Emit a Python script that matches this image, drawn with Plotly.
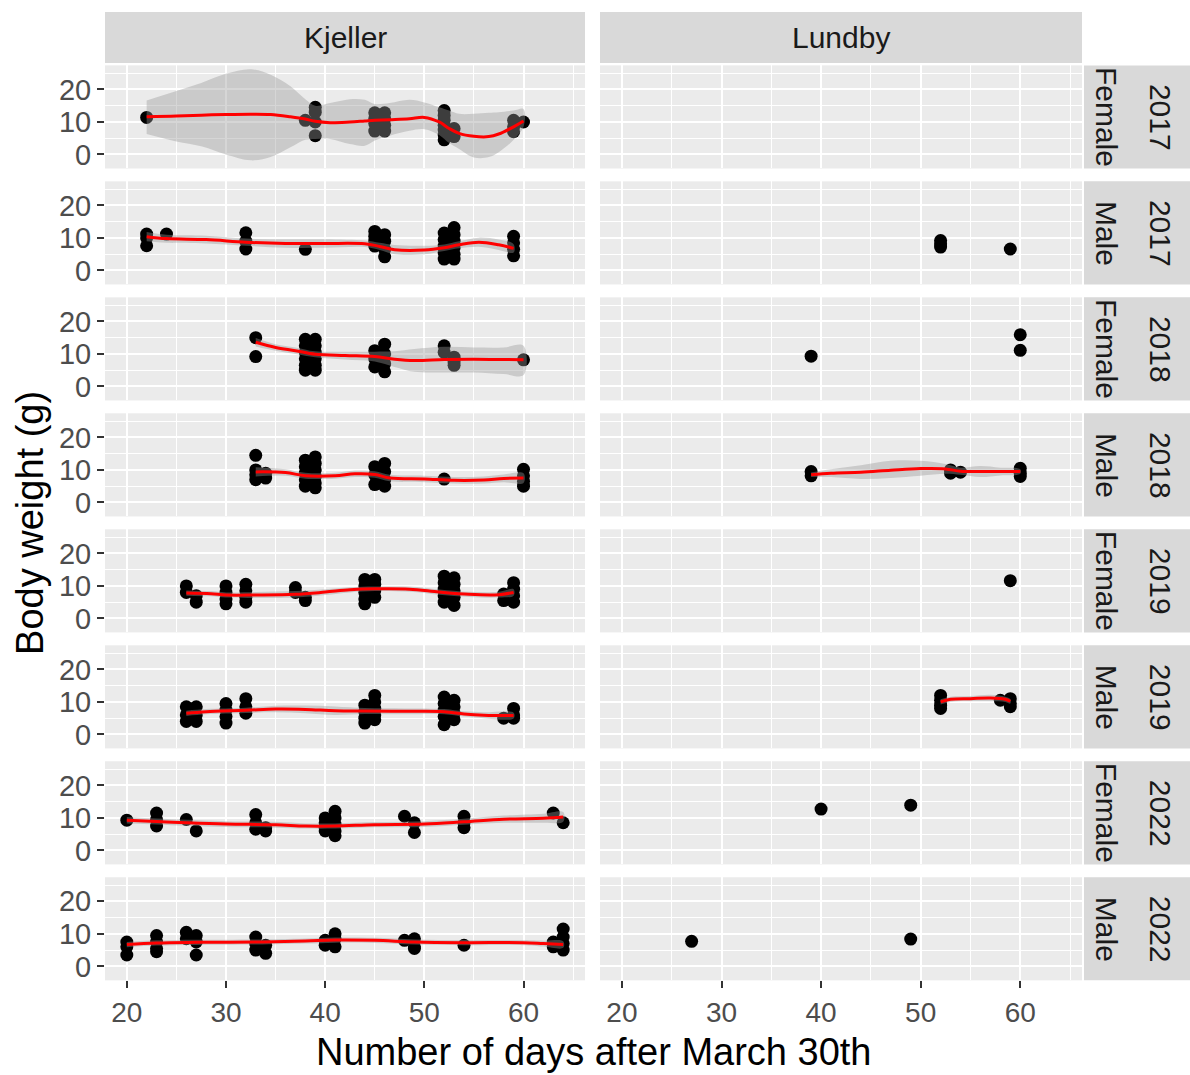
import plotly.graph_objects as go

# ---------------- data ----------------
sites = ["Kjeller", "Lundby"]
row_sex = ["Female", "Male", "Female", "Male", "Female", "Male", "Female", "Male"]
row_year = ["2017", "2017", "2018", "2018", "2019", "2019", "2022", "2022"]
x_ticks = [20, 30, 40, 50, 60]
y_ticks = [0, 10, 20]

# points (day, weight)
K_F2017 = [(22, 11.4), (38, 10.5), (39, 14.5), (39, 13.0), (39, 10.0), (39, 5.8),
           (45, 12.8), (45, 11.0), (45, 9.5), (45, 7.2), (46, 12.8), (46, 11.0), (46, 9.0), (46, 7.2),
           (52, 13.5), (52, 12.0), (52, 10.5), (52, 9.0), (52, 7.5), (52, 6.0), (52, 4.5), (53, 5.5), (53, 8.0),
           (59, 10.5), (59, 8.5), (59, 7.0), (60, 10.0)]
K_M2017 = [(22, 11.2), (22, 10.0), (22, 7.6), (24, 11.2),
           (32, 11.6), (32, 9.0), (32, 6.6), (38, 6.5),
           (45, 12.0), (45, 10.5), (45, 9.0), (45, 7.5), (46, 11.0), (46, 9.0), (46, 6.5), (46, 4.2),
           (52, 11.5), (52, 9.5), (52, 7.5), (52, 5.5), (52, 3.5), (53, 13.2), (53, 11.0), (53, 9.0),
           (53, 7.0), (53, 5.0), (53, 3.5),
           (59, 10.5), (59, 8.5), (59, 6.5), (59, 4.5)]
K_F2018 = [(33, 15.0), (33, 9.2),
           (38, 14.5), (38, 12.5), (38, 10.5), (38, 8.5), (38, 6.5), (38, 5.0),
           (39, 14.5), (39, 12.5), (39, 10.5), (39, 8.5), (39, 6.5), (39, 5.0),
           (45, 11.0), (45, 8.5), (45, 6.0), (46, 13.0), (46, 10.0), (46, 7.0), (46, 4.5),
           (52, 12.5), (52, 10.5), (53, 9.0), (53, 7.5), (53, 6.5),
           (60, 8.2)]
K_M2018 = [(33, 14.5), (33, 10.0), (33, 8.5), (33, 7.0), (34, 9.0), (34, 7.5),
           (38, 13.0), (38, 11.0), (38, 9.0), (38, 7.0), (38, 5.0),
           (39, 14.0), (39, 12.0), (39, 10.0), (39, 8.0), (39, 6.0), (39, 4.5),
           (45, 11.0), (45, 8.5), (45, 5.5), (46, 12.0), (46, 9.5), (46, 7.0), (46, 5.0),
           (52, 7.2),
           (60, 10.2), (60, 8.2), (60, 6.5), (60, 5.0)]
K_F2019 = [(26, 10.0), (26, 8.0), (27, 7.0), (27, 5.0),
           (30, 10.0), (30, 8.0), (30, 6.0), (30, 4.5),
           (32, 10.5), (32, 8.5), (32, 6.5), (32, 5.0),
           (37, 9.5), (37, 8.0), (38, 6.5), (38, 5.5),
           (44, 12.0), (44, 10.0), (44, 8.0), (44, 6.0), (44, 4.5), (45, 12.0), (45, 10.5), (45, 8.5), (45, 6.5),
           (52, 13.0), (52, 11.0), (52, 9.0), (52, 7.0), (52, 5.0),
           (53, 12.5), (53, 10.5), (53, 8.5), (53, 6.5), (53, 4.0),
           (58, 7.5), (58, 5.5), (59, 11.0), (59, 9.0), (59, 7.0), (59, 5.0)]
K_M2019 = [(26, 8.5), (26, 6.0), (26, 4.0), (27, 8.5), (27, 6.0), (27, 4.0),
           (30, 9.5), (30, 7.5), (30, 5.5), (30, 3.5),
           (32, 11.0), (32, 8.5), (32, 6.5),
           (44, 9.0), (44, 7.0), (44, 5.0), (44, 3.5), (45, 12.0), (45, 10.0), (45, 8.0), (45, 6.0), (45, 4.5),
           (52, 11.5), (52, 9.5), (52, 7.5), (52, 5.5), (52, 3.0), (53, 10.5), (53, 8.5), (53, 6.5), (53, 4.5),
           (58, 5.0), (59, 8.0), (59, 6.0), (59, 5.0)]
K_F2022 = [(20, 9.3), (23, 11.5), (23, 9.5), (23, 7.5), (26, 9.5), (27, 6.0),
           (33, 11.0), (33, 8.5), (33, 6.5), (34, 7.0), (34, 6.0),
           (40, 10.0), (40, 8.5), (40, 7.0), (40, 6.0), (41, 12.0), (41, 10.0), (41, 8.0), (41, 6.0), (41, 4.5),
           (48, 10.5), (49, 8.5), (49, 5.5),
           (54, 10.5), (54, 8.5), (54, 7.0),
           (63, 11.5), (64, 8.5)]
K_M2022 = [(20, 7.5), (20, 6.0), (20, 3.5), (23, 9.5), (23, 7.5), (23, 5.5), (23, 4.5),
           (26, 10.5), (26, 8.5), (27, 9.5), (27, 7.5), (27, 3.5),
           (33, 9.0), (33, 7.0), (33, 5.0), (34, 6.5), (34, 4.0),
           (40, 8.0), (40, 6.5), (41, 10.0), (41, 8.5), (41, 6.0),
           (48, 8.0), (49, 8.5), (49, 6.0), (49, 5.5),
           (54, 6.5),
           (63, 7.5), (63, 6.0), (64, 11.5), (64, 9.0), (64, 7.0), (64, 5.0)]
L_F2017 = []
L_M2017 = [(52, 9.2), (52, 8.2), (52, 7.2), (59, 6.6)]
L_F2018 = [(39, 9.3), (60, 15.9), (60, 11.1)]
L_M2018 = [(39, 9.5), (39, 8.2), (53, 10.0), (53, 9.0), (54, 9.3), (60, 10.5), (60, 9.0), (60, 8.0)]
L_F2019 = [(59, 11.6)]
L_M2019 = [(52, 12.0), (52, 10.5), (52, 9.0), (52, 8.0), (58, 10.5), (59, 11.0), (59, 9.5), (59, 8.5)]
L_F2022 = [(40, 12.7), (49, 13.9)]
L_M2022 = [(27, 7.7), (49, 8.4)]

# loess smooth: (day, fit, lower, upper)
S_K_F2017 = [(22, 11.6, 6.3, 16.6), (25, 11.8, 4.0, 19.5), (27.5, 12.1, 2.5, 22.0), (30, 12.3, 0.0, 24.8),
             (32.5, 12.4, -1.8, 26.2), (34.5, 12.3, -0.8, 24.5), (36.5, 11.6, 2.2, 21.0), (38, 10.9, 4.5, 17.0),
             (39, 10.2, 4.8, 15.0), (40.5, 9.8, 4.8, 15.8), (42.5, 10.0, 3.2, 17.0), (44, 10.3, 2.7, 16.8),
             (45, 10.5, 4.3, 15.5), (46.5, 10.7, 5.8, 15.8), (48.5, 11.0, 7.3, 16.8), (50, 11.4, 7.8, 16.0),
             (51.5, 10.0, 6.0, 14.5), (52.5, 8.0, 3.5, 13.5), (53.5, 6.5, 1.7, 12.5), (55, 5.6, -0.9, 12.5),
             (56.5, 5.5, -0.8, 12.8), (57.5, 6.3, 0.7, 13.0), (59, 8.5, 4.5, 13.5), (60, 10.3, 8.5, 14.0)]
S_K_M2017 = [(22, 10.4, 9.0, 11.8), (24, 9.8, 8.5, 11.0), (28, 9.5, 8.3, 10.7), (32, 8.7, 7.6, 9.8),
             (36, 8.3, 7.0, 9.6), (40, 8.3, 7.0, 9.6), (44, 8.2, 7.2, 9.2), (45.5, 7.4, 6.3, 8.5),
             (47, 6.4, 5.0, 7.8), (50, 6.3, 5.0, 7.6), (52, 7.0, 6.0, 8.0), (53.5, 7.9, 6.8, 9.0),
             (55.5, 8.7, 7.3, 10.1), (57.5, 7.9, 6.3, 9.5), (59, 6.8, 5.5, 8.1)]
S_K_F2018 = [(33, 13.6, 12.3, 14.9), (35, 12.0, 11.0, 13.0), (37, 11.0, 10.0, 12.0), (39, 9.9, 9.0, 10.8),
             (42, 9.5, 8.3, 10.7), (45, 9.2, 7.7, 10.7), (47, 8.4, 6.0, 10.8), (49, 8.0, 4.5, 11.5),
             (52, 8.3, 4.3, 12.2), (55, 8.4, 4.3, 12.0), (58, 8.3, 3.8, 12.0), (60, 8.2, 3.5, 12.5)]
S_K_M2018 = [(33, 9.4, 8.0, 10.8), (36, 9.2, 8.2, 10.2), (38, 8.2, 7.3, 9.1), (41, 8.2, 7.3, 9.1),
             (43, 8.8, 7.8, 9.8), (45, 8.6, 7.6, 9.6), (46.5, 7.5, 6.5, 8.5), (50, 7.2, 6.2, 8.2),
             (53, 6.8, 5.8, 7.8), (56, 6.9, 5.8, 8.0), (58, 7.4, 6.2, 8.6), (60, 7.5, 6.0, 9.0)]
S_K_F2019 = [(26, 7.8, 7.0, 8.6), (28.5, 7.6, 6.8, 8.4), (30, 7.2, 6.4, 8.0), (33, 7.2, 6.3, 8.1),
             (37, 7.4, 6.4, 8.4), (40, 8.1, 7.2, 9.0), (42.5, 8.8, 8.0, 9.6), (45, 9.1, 8.4, 9.8),
             (48.5, 9.0, 8.2, 9.8), (51.5, 8.1, 7.3, 8.9), (54.5, 7.4, 6.6, 8.2), (57.5, 7.3, 6.4, 8.2),
             (59, 8.0, 7.0, 9.0)]
S_K_M2019 = [(26, 6.5, 5.7, 7.3), (28, 7.0, 6.2, 7.8), (32, 7.4, 6.6, 8.2), (35, 7.8, 6.8, 8.8),
             (38, 7.7, 6.5, 8.9), (41, 7.3, 6.0, 8.6), (44, 7.2, 6.3, 8.1), (48, 7.1, 6.2, 8.0),
             (52, 7.0, 6.2, 7.8), (54, 6.3, 5.5, 7.1), (56, 5.9, 5.0, 6.8), (59, 5.8, 4.9, 6.7)]
S_K_F2022 = [(20, 9.3, 8.3, 10.3), (23, 8.9, 8.0, 9.8), (26, 8.5, 7.6, 9.4), (30, 8.1, 7.2, 9.0),
             (35, 7.9, 7.0, 8.8), (38, 7.5, 6.7, 8.3), (41, 7.5, 6.7, 8.3), (45, 7.9, 7.1, 8.7),
             (50, 8.1, 7.2, 9.0), (54, 8.8, 7.9, 9.7), (58, 9.6, 8.5, 10.7), (62, 9.9, 8.5, 11.3),
             (64, 10.3, 8.8, 11.8)]
S_K_M2022 = [(20, 6.7, 5.9, 7.5), (23, 7.2, 6.4, 8.0), (27, 7.4, 6.6, 8.2), (33, 7.5, 6.7, 8.3),
             (38, 7.8, 7.0, 8.6), (41, 8.1, 7.3, 8.9), (45, 8.0, 7.2, 8.8), (49, 7.5, 6.7, 8.3),
             (54, 7.3, 6.5, 8.1), (60, 7.3, 6.5, 8.1), (62, 7.0, 6.1, 7.9), (64, 6.7, 5.7, 7.7)]
S_L_M2018 = [(39, 8.5, 7.8, 9.2), (41, 9.0, 7.8, 10.2), (44, 9.3, 7.2, 11.4), (47, 9.9, 7.5, 12.8),
             (50, 10.4, 8.2, 12.8), (52.5, 10.3, 8.8, 11.8), (54, 9.6, 8.5, 10.7), (56, 9.5, 7.8, 11.2),
             (58, 9.5, 8.3, 10.7), (60, 9.5, 8.8, 10.2)]
S_L_M2019 = [(52, 10.0, 9.2, 10.8), (53, 10.8, 10.0, 11.6), (55, 11.0, 10.2, 11.8), (57, 11.2, 10.2, 12.2),
             (58.5, 10.8, 10.0, 11.6), (59, 10.2, 9.5, 10.9)]

points = [[K_F2017, L_F2017], [K_M2017, L_M2017], [K_F2018, L_F2018], [K_M2018, L_M2018],
          [K_F2019, L_F2019], [K_M2019, L_M2019], [K_F2022, L_F2022], [K_M2022, L_M2022]]
smooths = [[S_K_F2017, None], [S_K_M2017, None], [S_K_F2018, None], [S_K_M2018, S_L_M2018],
           [S_K_F2019, None], [S_K_M2019, S_L_M2019], [S_K_F2022, None], [S_K_M2022, None]]

# ---------------- layout geometry (pixels) ----------------
W, H = 1190, 1075
FONT = "Liberation Sans, Arial, sans-serif"
col_px = [(105, 585), (600, 1082)]
row_top0, row_step, row_h = 65.5, 116.2, 103.3
strip_top = (12, 63)
rstrip = (1084, 1190)
XR = [17.8, 66.2]
YR = [-4.3, 27.4]


def px(x):
    return x / W


def py(y):
    return 1 - y / H


fig = go.Figure()
layout = {}
shapes = []
annotations = []

for r in range(8):
    top = row_top0 + row_step * r
    bot = top + row_h
    for c in range(2):
        idx = r * 2 + c + 1
        xa = "x" if idx == 1 else f"x{idx}"
        ya = "y" if idx == 1 else f"y{idx}"
        xkey = "xaxis" if idx == 1 else f"xaxis{idx}"
        ykey = "yaxis" if idx == 1 else f"yaxis{idx}"
        bottom_row = r == 7
        left_col = c == 0
        layout[xkey] = dict(
            domain=[px(col_px[c][0]), px(col_px[c][1])], anchor=ya, range=XR,
            tickmode="array", tickvals=x_ticks, ticktext=[str(v) for v in x_ticks],
            showticklabels=bottom_row, ticks="outside" if bottom_row else "",
            ticklen=7, tickwidth=1.5, tickcolor="#333333",
            tickfont=dict(family=FONT, size=28, color="#4D4D4D"),
            showgrid=True, gridcolor="white", gridwidth=2, zeroline=False, showline=False,
            minor=dict(tickmode="array", tickvals=[25, 35, 45, 55, 65], showgrid=True,
                       gridcolor="white", gridwidth=1, ticks=""),
            fixedrange=True,
        )
        layout[ykey] = dict(
            domain=[py(bot), py(top)], anchor=xa, range=YR,
            tickmode="array", tickvals=y_ticks, ticktext=[str(v) for v in y_ticks],
            showticklabels=left_col, ticks="outside" if left_col else "",
            ticklen=7, tickwidth=1.5, tickcolor="#333333",
            tickfont=dict(family=FONT, size=29, color="#4D4D4D"),
            showgrid=True, gridcolor="white", gridwidth=2, zeroline=False, showline=False,
            minor=dict(tickmode="array", tickvals=[5, 15, 25], showgrid=True,
                       gridcolor="white", gridwidth=1, ticks=""),
            fixedrange=True,
        )
        pts = points[r][c]
        sm = smooths[r][c]
        # always one marker trace so every panel's axes get drawn
        fig.add_trace(go.Scatter(x=[p[0] for p in pts], y=[p[1] for p in pts], mode="markers",
                                 marker=dict(color="black", size=13, line=dict(width=0)),
                                 xaxis=xa, yaxis=ya, showlegend=False, hoverinfo="x+y"))
        if sm:
            xs = [s[0] for s in sm]
            fit = [s[1] for s in sm]
            lo = [s[2] for s in sm]
            hi = [s[3] for s in sm]
            fig.add_trace(go.Scatter(x=xs + xs[::-1], y=hi + lo[::-1], mode="lines", fill="toself",
                                     fillcolor="rgba(153,153,153,0.4)", line=dict(width=0, shape="spline"),
                                     xaxis=xa, yaxis=ya, showlegend=False, hoverinfo="skip"))
            fig.add_trace(go.Scatter(x=xs, y=fit, mode="lines", line=dict(color="red", width=3, shape="spline"),
                                     xaxis=xa, yaxis=ya, showlegend=False, hoverinfo="skip"))
    # right strip
    shapes.append(dict(type="rect", xref="paper", yref="paper", layer="below",
                       x0=px(rstrip[0]), x1=px(rstrip[1]), y0=py(bot), y1=py(top),
                       fillcolor="#D9D9D9", line=dict(width=0)))
    mid = (top + bot) / 2
    annotations.append(dict(x=px(1106), y=py(mid), xref="paper", yref="paper", text=row_sex[r],
                            textangle=90, showarrow=False, xanchor="center", yanchor="middle",
                            font=dict(family=FONT, size=30, color="#1A1A1A")))
    annotations.append(dict(x=px(1160), y=py(mid), xref="paper", yref="paper", text=row_year[r],
                            textangle=90, showarrow=False, xanchor="center", yanchor="middle",
                            font=dict(family=FONT, size=30, color="#1A1A1A")))

# top strips
for c in range(2):
    shapes.append(dict(type="rect", xref="paper", yref="paper", layer="below",
                       x0=px(col_px[c][0]), x1=px(col_px[c][1]), y0=py(strip_top[1]), y1=py(strip_top[0]),
                       fillcolor="#D9D9D9", line=dict(width=0)))
    annotations.append(dict(x=px((col_px[c][0] + col_px[c][1]) / 2), y=py((strip_top[0] + strip_top[1]) / 2),
                            xref="paper", yref="paper", text=sites[c], showarrow=False,
                            xanchor="center", yanchor="middle",
                            font=dict(family=FONT, size=30, color="#1A1A1A")))

# axis titles
annotations.append(dict(x=px((col_px[0][0] + col_px[1][1]) / 2), y=py(1054), xref="paper", yref="paper",
                        text="Number of days after March 30th", showarrow=False,
                        xanchor="center", yanchor="middle", font=dict(family=FONT, size=38, color="black")))
annotations.append(dict(x=px(30), y=py((row_top0 + row_top0 + row_step * 7 + row_h) / 2), xref="paper",
                        yref="paper", text="Body weight (g)", textangle=-90, showarrow=False,
                        xanchor="center", yanchor="middle", font=dict(family=FONT, size=38, color="black")))

fig.update_layout(width=W, height=H, margin=dict(l=0, r=0, t=0, b=0),
                  paper_bgcolor="white", plot_bgcolor="#EBEBEB",
                  shapes=shapes, annotations=annotations, showlegend=False, **layout)

fig.write_html("out.html", config={"displayModeBar": False})
